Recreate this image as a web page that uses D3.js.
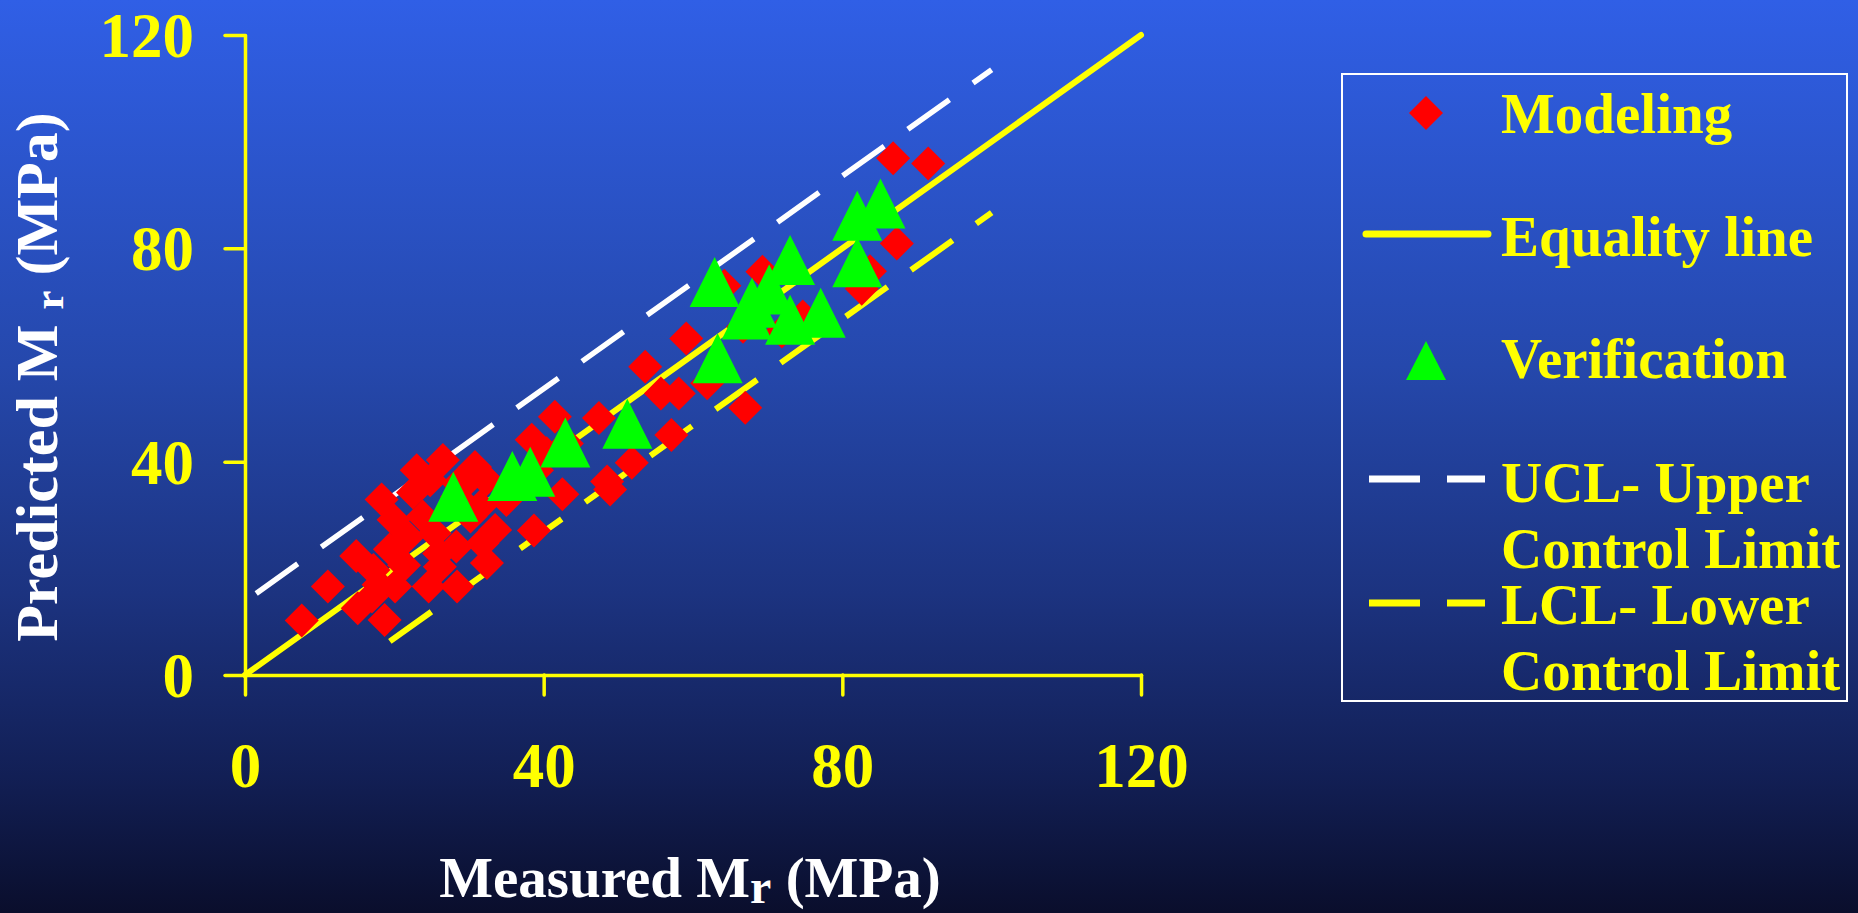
<!DOCTYPE html>
<html>
<head>
<meta charset="utf-8">
<script src="https://cdn.jsdelivr.net/npm/d3@7"></script>
<style>
  html, body { margin: 0; padding: 0; overflow: hidden; }
  body { width: 1858px; height: 913px; }
  svg { display: block; }
  text { font-family: "Liberation Serif", "Times New Roman", serif; font-weight: bold; }
</style>
</head>
<body>
<div id="chart"></div>
<script>
// measured vs predicted resilient modulus
const modeling = [
  [7.6, 10.2], [11.1, 16.6], [14.9, 22.3], [15.1, 12.5], [17.0, 14.7], [18.7, 10.3],
  [18.3, 32.9], [17.9, 16.9], [19.4, 23.6], [20.1, 16.6], [21.3, 20.6], [22.5, 34.2],
  [23.8, 29.7], [21.8, 25.9], [24.6, 16.6], [25.4, 26.6], [26.0, 22.8], [26.5, 40.3],
  [28.4, 16.6], [28.3, 24.1], [28.6, 35.9], [30.2, 29.7], [30.8, 39.0], [31.5, 31.6],
  [31.8, 24.7], [32.3, 36.6], [33.5, 27.2], [32.4, 21.0], [26.1, 20.3], [23.0, 38.4],
  [35.0, 32.8], [28.4, 33.4], [19.9, 29.1], [17.2, 19.7], [24.8, 36.5], [29.5, 36.0],
  [38.7, 27.1], [42.5, 33.9],
  [41.5, 48.4], [38.4, 44.1], [40.4, 41.6], [39.1, 38.4], [43.1, 43.4], [47.4, 48.2],
  [48.5, 36.3], [48.9, 34.8], [51.8, 39.8], [53.6, 57.8], [55.7, 52.8], [58.1, 52.8],
  [57.1, 45.0], [59.1, 63.1], [61.9, 54.7], [67.0, 50.1], [64.2, 73.0], [69.3, 75.6],
  [66.7, 65.3], [71.9, 64.4], [74.7, 67.2], [82.6, 72.4], [83.7, 75.7], [87.3, 80.9],
  [86.8, 96.9], [91.5, 95.9]
];
const verification = [
  [27.9, 33.4], [35.8, 37.3], [38.2, 38.1], [42.9, 43.6], [51.2, 47.1], [63.3, 59.4],
  [62.9, 73.7], [67.2, 67.6], [67.9, 69.8], [70.2, 72.3], [73.0, 77.8], [73.0, 66.6],
  [77.1, 67.9], [82.0, 86.1], [85.1, 88.4], [82.0, 77.4]
];
const equalityLine = [[0, 0], [120, 120]];
const uclLine = [[1.5, 15.3], [100, 113.5]];
const lclLine = [[19.4, 6.3], [100, 86.7]];
const xTicks = [0, 40, 80, 120];
const yTicks = [0, 40, 80, 120];
const legendItems = ["Modeling", "Equality line", "Verification", "UCL- Upper", "Control Limit", "LCL- Lower", "Control Limit"];

const width = 1858;
const height = 913;
const yellow = "#ffff00";

const svg = d3.select("#chart")
  .append("svg")
  .attr("width", width)
  .attr("height", height)
  .attr("viewBox", [0, 0, width, height]);

// background gradient
const grad = svg.append("defs").append("linearGradient")
  .attr("id", "bg")
  .attr("x1", 0).attr("y1", 0).attr("x2", 0).attr("y2", 1);
[[0, "#305fe6"], [0.4, "#2548ac"], [0.65, "#1c3380"], [0.85, "#121f55"], [1, "#0a0e2c"]]
  .forEach(([o, c]) => grad.append("stop").attr("offset", o).attr("stop-color", c));
svg.append("rect").attr("width", width).attr("height", height).attr("fill", "url(#bg)");

const x = d3.scaleLinear().domain([0, 120]).range([245, 1141]);
const y = d3.scaleLinear().domain([0, 120]).range([675, 35]);

const line = d3.line().x(d => x(d[0])).y(d => y(d[1]));

// reference lines
svg.append("path").attr("d", line(equalityLine))
  .attr("fill", "none").attr("stroke", yellow).attr("stroke-width", 6).attr("stroke-linecap", "round");
svg.append("path").attr("d", line(uclLine))
  .attr("fill", "none").attr("stroke", "#ffffff").attr("stroke-width", 5.5)
  .attr("stroke-dasharray", "51,29");
svg.append("path").attr("d", line(lclLine))
  .attr("fill", "none").attr("stroke", yellow).attr("stroke-width", 6)
  .attr("stroke-dasharray", "51,29");

// axes
const xAxis = svg.append("g")
  .attr("transform", `translate(0,${y(0)})`)
  .call(d3.axisBottom(x).tickValues(xTicks).tickSizeInner(20).tickSizeOuter(0));
const yAxis = svg.append("g")
  .attr("transform", `translate(${x(0)},0)`)
  .call(d3.axisLeft(y).tickValues(yTicks).tickSizeInner(20).tickSizeOuter(0));

[xAxis, yAxis].forEach(g => {
  g.selectAll("path, line")
    .attr("stroke", yellow)
    .attr("stroke-width", 3.5)
    .attr("stroke-linecap", "round");
  g.selectAll("text")
    .attr("fill", yellow)
    .attr("font-size", 63)
    .attr("font-family", "Liberation Serif, serif")
    .attr("font-weight", "bold");
});
xAxis.selectAll("text").attr("y", 112).attr("dy", 0);
yAxis.selectAll("text").attr("x", -51).attr("dy", "0.34em");

// points
const diamond = "M0,-17L17,0L0,17L-17,0Z";
const triangle = "M0,-25L25,25L-25,25Z";

svg.append("g")
  .selectAll("path")
  .data(modeling)
  .join("path")
  .attr("d", diamond)
  .attr("transform", d => `translate(${x(d[0])},${y(d[1])})`)
  .attr("fill", "#ff0000");

svg.append("g")
  .selectAll("path")
  .data(verification)
  .join("path")
  .attr("d", triangle)
  .attr("transform", d => `translate(${x(d[0])},${y(d[1])})`)
  .attr("fill", "#00ff00");

// axis titles
const xTitle = svg.append("text")
  .attr("x", 690).attr("y", 897)
  .attr("text-anchor", "middle")
  .attr("fill", "#ffffff")
  .attr("font-size", 57);
xTitle.append("tspan").text("Measured M");
xTitle.append("tspan").attr("font-size", 48).attr("dy", 6).text("r");
xTitle.append("tspan").attr("dy", -6).text(" (MPa)");

const yTitle = svg.append("text")
  .attr("transform", "translate(57,377) rotate(-90)")
  .attr("text-anchor", "middle")
  .attr("fill", "#ffffff")
  .attr("font-size", 60);
yTitle.append("tspan").text("Predicted M ");
yTitle.append("tspan").attr("font-size", 43).attr("dy", 6).text("r");
yTitle.append("tspan").attr("dy", -6).text(" (MPa)");

// legend
const legend = svg.append("g");
legend.append("rect")
  .attr("x", 1342).attr("y", 74)
  .attr("width", 505).attr("height", 627)
  .attr("fill", "none")
  .attr("stroke", "#ffffff")
  .attr("stroke-width", 2);

const rowY = [133, 256, 378, 502, 568, 624, 690];
legend.selectAll("text")
  .data(legendItems)
  .join("text")
  .attr("x", 1501)
  .attr("y", (d, i) => rowY[i])
  .attr("fill", yellow)
  .attr("font-size", 57)
  .text(d => d);

legend.append("path").attr("d", diamond)
  .attr("transform", "translate(1426,113)").attr("fill", "#ff0000");
legend.append("line")
  .attr("x1", 1366).attr("x2", 1488).attr("y1", 234).attr("y2", 234)
  .attr("stroke", yellow).attr("stroke-width", 7).attr("stroke-linecap", "round");
legend.append("path").attr("d", "M0,-20L20,19L-20,19Z")
  .attr("transform", "translate(1426,361)").attr("fill", "#00ff00");
legend.append("line")
  .attr("x1", 1369).attr("x2", 1485).attr("y1", 479).attr("y2", 479)
  .attr("stroke", "#ffffff").attr("stroke-width", 7).attr("stroke-dasharray", "51,27");
legend.append("line")
  .attr("x1", 1369).attr("x2", 1485).attr("y1", 603).attr("y2", 603)
  .attr("stroke", yellow).attr("stroke-width", 7).attr("stroke-dasharray", "51,27");
</script>
</body>
</html>
